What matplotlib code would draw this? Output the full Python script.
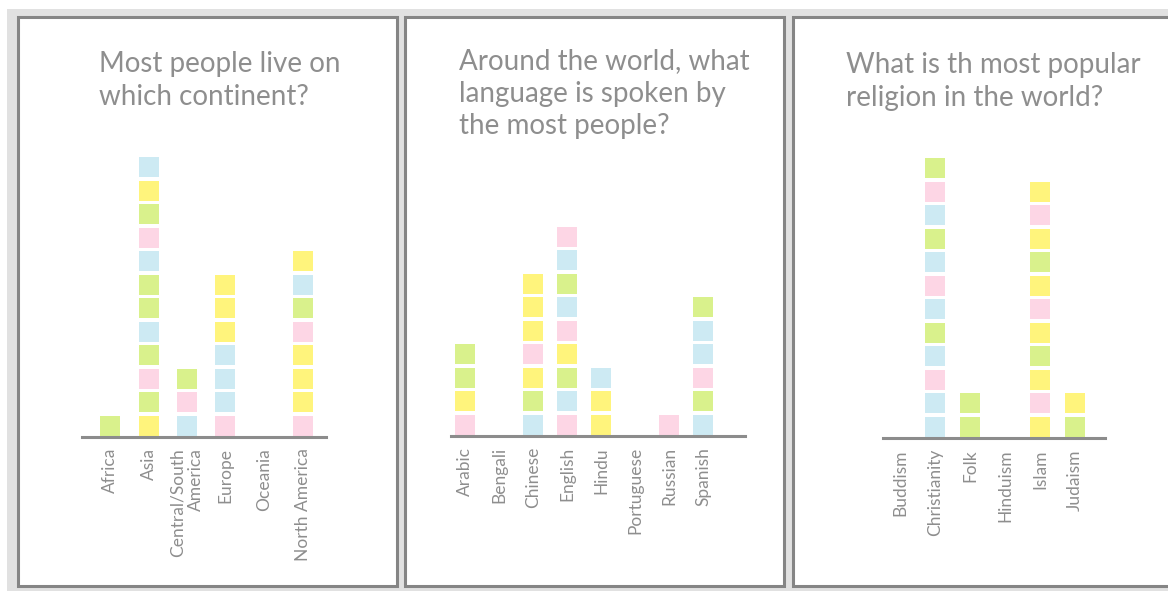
import matplotlib
matplotlib.use("Agg")
import matplotlib.pyplot as plt
from matplotlib.patches import Rectangle

W, H = 1168, 591
DPI = 100

# ---------------- data ----------------
continents = ["Africa", "Asia", "Central/South\nAmerica", "Europe", "Oceania", "North America"]
continent_stacks = [
    ["G"],
    ["Y", "G", "P", "G", "B", "G", "G", "B", "P", "G", "Y", "B"],
    ["B", "P", "G"],
    ["P", "B", "B", "B", "Y", "Y", "Y"],
    [],
    ["P", "Y", "Y", "Y", "P", "G", "B", "Y"],
]

languages = ["Arabic", "Bengali", "Chinese", "English", "Hindu", "Portuguese", "Russian", "Spanish"]
language_stacks = [
    ["P", "Y", "G", "G"],
    [],
    ["B", "G", "Y", "P", "Y", "Y", "Y"],
    ["P", "B", "G", "Y", "P", "B", "G", "B", "P"],
    ["Y", "Y", "B"],
    [],
    ["P"],
    ["B", "G", "P", "B", "B", "G"],
]

religions = ["Buddism", "Christianity", "Folk", "Hinduism", "Islam", "Judaism"]
religion_stacks = [
    [],
    ["B", "B", "P", "B", "G", "B", "P", "B", "G", "B", "P", "G"],
    ["G", "G"],
    [],
    ["Y", "P", "Y", "G", "Y", "P", "Y", "G", "Y", "P", "Y"],
    ["G", "Y"],
]

titles = [
    "Most people live on\nwhich continent?",
    "Around the world, what\nlanguage is spoken by\nthe most people?",
    "What is th most popular\nreligion in the world?",
]

# ---------------- style ----------------
COLORS = {"G": "#d9f18c", "Y": "#fff47c", "P": "#fdd6e5", "B": "#cdeaf3"}
TEXT = "#8e8e8e"
BORDER = "#858585"
BG = "#e1e1e1"
FONT = ["Lato", "DejaVu Sans"]

fig = plt.figure(figsize=(W / DPI, H / DPI), dpi=DPI)
fig.patch.set_facecolor("white")


def fx(px):
    return px / W


def fy(py):
    return 1 - py / H


# gray background
fig.patches.append(Rectangle((fx(7), 0), 1, fy(9), transform=fig.transFigure,
                             facecolor=BG, edgecolor="none", zorder=0))

panels = [(18, 17, 397, 586), (405, 17, 784, 586), (793, 17, 1180, 586)]
for (x0, y0, x1, y1) in panels:
    fig.patches.append(Rectangle((fx(x0), fy(y1)), fx(x1) - fx(x0), fy(y0) - fy(y1),
                                 transform=fig.transFigure, facecolor="white",
                                 edgecolor=BORDER, linewidth=2.2, zorder=1))

PITCH = 23.5   # px per stacked square
SQ = 20.0      # square size px

charts = [
    # cats, stacks, first-cat px, step px, axis left px, axis right px, baseline px, title x, title y
    (continents, continent_stacks, 110, 38.5, 82, 326, 437, 99, 51),
    (languages, language_stacks, 465, 34.0, 451, 745, 436, 459, 48),
    (religions, religion_stacks, 900, 35.0, 883, 1105, 438, 846, 52),
]

for k, (cats, stacks, c0, step, axl, axr, base, tx, ty) in enumerate(charts):
    ymax = 13.0
    height_px = ymax * PITCH
    ax = fig.add_axes([fx(axl), fy(base), fx(axr) - fx(axl), height_px / H])
    ax.set_zorder(2)
    ax.patch.set_alpha(0)
    ax.set_xlim((axl - c0) / step, (axr - c0) / step)
    ax.set_ylim(0, ymax)
    w = SQ / step
    h = SQ / PITCH
    n = max(len(s) for s in stacks)
    for j in range(n):
        xs = [i for i, s in enumerate(stacks) if len(s) > j]
        cols = [COLORS[stacks[i][j]] for i in xs]
        ax.bar(xs, [h] * len(xs), bottom=j + 0.05, width=w, color=cols,
               edgecolor="none")
    for s in ["top", "right", "left"]:
        ax.spines[s].set_visible(False)
    ax.spines["bottom"].set_color("#8c8c8c")
    ax.spines["bottom"].set_linewidth(2.2)
    ax.set_yticks([])
    ax.set_xticks(range(len(cats)))
    ax.set_xticklabels(cats, rotation=90, fontsize=12.5, color=TEXT,
                       family=FONT, multialignment="right")
    ax.tick_params(axis="x", length=0, pad=8)
    fig.text(fx(tx), fy(ty), titles[k],
             ha="left", va="top", fontsize=20, color=TEXT, family=FONT,
             linespacing=1.32)

fig.savefig("out.png", dpi=DPI, facecolor=fig.get_facecolor())
